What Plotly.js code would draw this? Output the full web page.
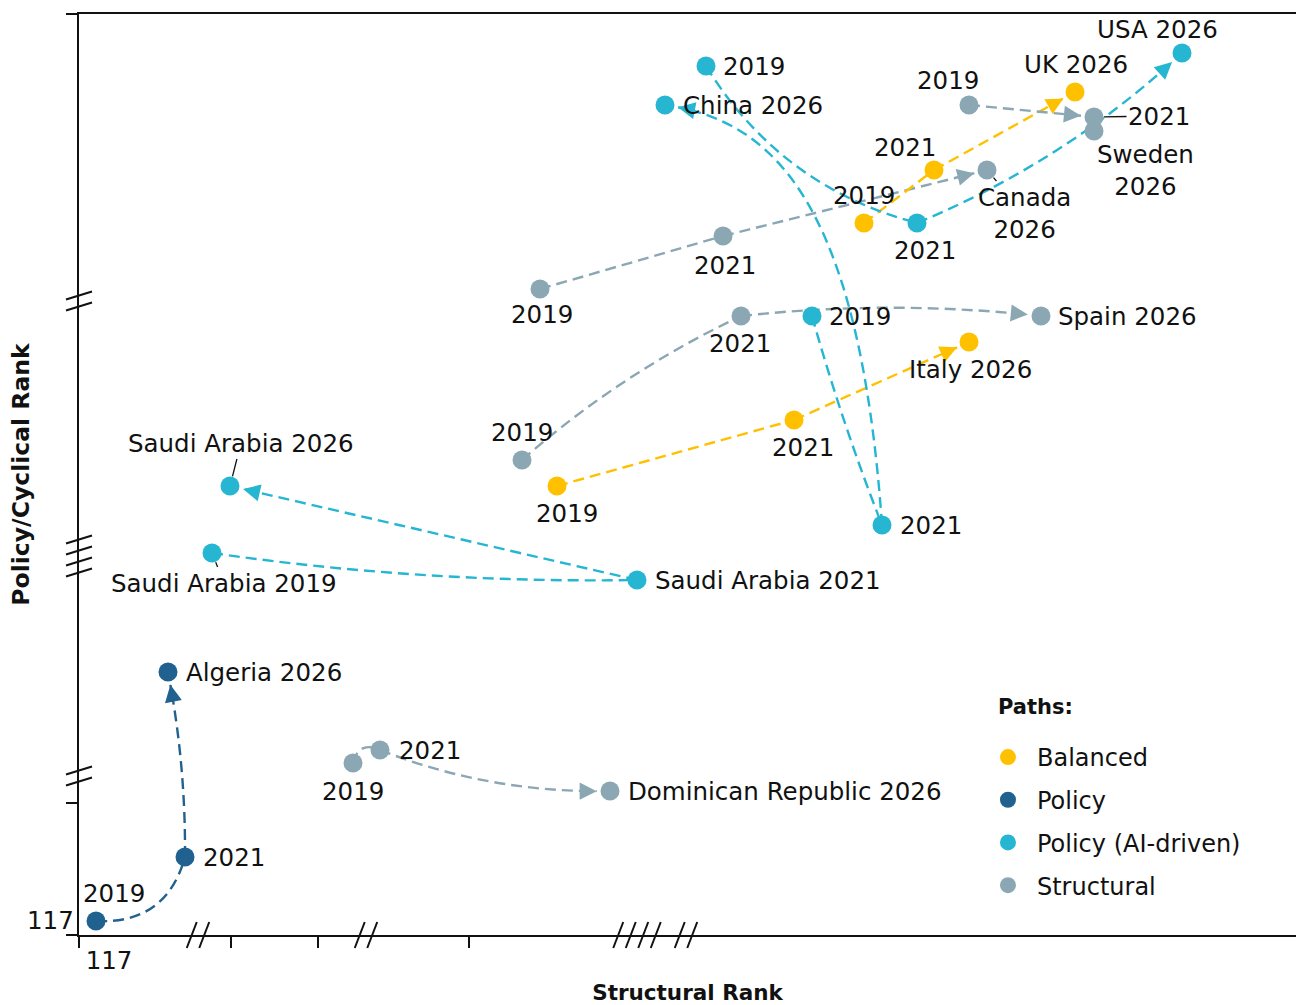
<!DOCTYPE html>
<html>
<head>
<meta charset="utf-8">
<script src="https://cdn.plot.ly/plotly-3.0.1.min.js"></script>
<style>html,body{margin:0;padding:0;background:#fff}#chart{width:1296px;height:1005px}</style>
</head>
<body>
<div id="chart"></div>
<script>
// ---------------- DATA (positions on the broken rank axes) ----------------
const countries = ['Algeria', 'Dominican Republic', 'Saudi Arabia', 'Italy', 'Spain', 'Canada', 'UK', 'Sweden', 'USA', 'China'];
const pathType = ['Policy', 'Structural', 'Policy (AI-driven)', 'Balanced', 'Structural', 'Structural', 'Balanced', 'Structural', 'Policy (AI-driven)', 'Policy (AI-driven)'];
const years = [2019, 2021, 2026];
const structural2019 = [17, 274, 133, 478, 443, 461, 785, 890, 627, 733];
const structural2021 = [106, 301, 558, 715, 662, 644, 855, 1015, 838, 803];
const structural2026 = [89, 531, 151, 890, 962, 908, 996, 1015, 1103, 586];
const policy2019 = [14, 172, 382, 449, 475, 646, 712, 830, 869, 619];
const policy2021 = [78, 185, 355, 515, 619, 699, 765, 818, 712, 410];
const policy2026 = [263, 144, 449, 593, 619, 765, 843, 804, 882, 830];
const pointLabels = [
  ['2019', '2021', 'Algeria 2026'],
  ['2019', '2021', 'Dominican Republic 2026'],
  ['Saudi Arabia 2019', 'Saudi Arabia 2021', 'Saudi Arabia 2026'],
  ['2019', '2021', 'Italy 2026'],
  ['2019', '2021', 'Spain 2026'],
  ['2019', '2021', 'Canada<br>2026'],
  ['2019', '2021', 'UK 2026'],
  ['2019', '2021', 'Sweden<br>2026'],
  ['2019', '2021', 'USA 2026'],
  ['2019', '2021', 'China 2026']
];
const pathNames = ['Balanced', 'Policy', 'Policy (AI-driven)', 'Structural'];
const legendTitle = 'Paths:';
const axisTickLabel = '117';

// ---------------- STYLE ----------------
const pathColors = ['#FFC000', '#21618F', '#26B6D2', '#8AA7B3'];
const FONT = 'DejaVu Sans, Verdana, sans-serif';
const LABEL_SIZE = 24.5;
const q = r => [1/3, 2*r/3, 2/3, 2*r/3];           // arc-like bend of a path segment
const bends = [
  [q(0.4), q(0.05)],
  [q(-0.6), q(0.1)],
  [q(0.04), q(0)],
  [q(0), q(0)],
  [q(-0.07), q(-0.055)],
  [q(0), q(0)],
  [q(0), q(0)],
  [q(0), q(0)],
  [q(0.2), q(0.09)],
  [q(0.025), [0.6425, 0.277, 0.871, 0.181]]
];
const arrowSeg = [1, 1, 1, 1, 1, 1, 1, 0, 1, 1];
// label offsets: [dx, dy (down), anchor, leader]
const labelStyle = [
  [[18, -28, 'c'], [18, 0, 'l'], [18, 0, 'l']],
  [[0, 28, 'c'], [19, 0, 'l'], [18, 0, 'l']],
  [[12, 30, 'c', 1], [18, 0, 'l'], [11, -43, 'c', 1]],
  [[10, 27, 'c'], [9, 27, 'c'], [1, 27, 'c']],
  [[0, -28, 'c'], [-1, 27, 'c'], [17, 0, 'l']],
  [[2, 25, 'c'], [2, 29, 'c'], [37, 43, 'c', 1]],
  [[0, -28, 'c'], [-29, -23, 'c'], [1, -28, 'c']],
  [[-21, -25, 'c'], [65, -1, 'c', 1], [51, 39, 'c']],
  [[17, 0, 'l'], [8, 27, 'c'], [-25, -24, 'c']],
  [[17, 0, 'l'], [18, 0, 'l'], [18, 0, 'l']]
];
const xBreaks = [[119, 2], [287, 2], [558, 4], [607, 2]];
const yBreaks = [[634, 2], [379, 4], [159, 2]];
const xTickPos = [0, 152, 239, 390];
const yTickPos = [0, 132, 921];

// ---------------- BUILD ----------------
const S = [structural2019, structural2021, structural2026];
const P = [policy2019, policy2021, policy2026];
const pt = (i, k) => [S[k][i], P[k][i]];
const colorOf = i => pathColors[pathNames.indexOf(pathType[i])];

function controls(p0, p3, b) {
  const dx = p3[0] - p0[0], dy = p3[1] - p0[1];
  const px = dy, py = -dx;
  return [p0,
    [p0[0] + b[0]*dx + b[1]*px, p0[1] + b[0]*dy + b[1]*py],
    [p0[0] + b[2]*dx + b[3]*px, p0[1] + b[2]*dy + b[3]*py],
    p3];
}
function bez(c, t) {
  const m = 1 - t;
  return [0, 1].map(j => m*m*m*c[0][j] + 3*m*m*t*c[1][j] + 3*m*t*t*c[2][j] + t*t*t*c[3][j]);
}
function dbez(c, t) {
  const m = 1 - t;
  return [0, 1].map(j => 3*m*m*(c[1][j]-c[0][j]) + 6*m*t*(c[2][j]-c[1][j]) + 3*t*t*(c[3][j]-c[2][j]));
}
function split(c, t) {
  const lerp = (a, b) => [a[0] + (b[0]-a[0])*t, a[1] + (b[1]-a[1])*t];
  const p01 = lerp(c[0], c[1]), p12 = lerp(c[1], c[2]), p23 = lerp(c[2], c[3]);
  const p012 = lerp(p01, p12), p123 = lerp(p12, p23);
  return [c[0], p01, p012, lerp(p012, p123)];
}

const shapes = [];
const annotations = [];
const SHRINK = 13, HEAD = 16;

countries.forEach((name, i) => {
  const col = colorOf(i);
  for (let s = 0; s < 2; s++) {
    let c = controls(pt(i, s), pt(i, s + 1), bends[i][s]);
    if (arrowSeg[i] === s) {
      const end = c[3];
      let t = 1;
      while (t > 0.02) {
        const b = bez(c, t);
        if (Math.hypot(b[0]-end[0], b[1]-end[1]) >= SHRINK) break;
        t -= 0.002;
      }
      const tip = bez(c, t);
      const d = dbez(c, t);
      const n = Math.hypot(d[0], d[1]) || 1;
      annotations.push({
        x: tip[0], y: tip[1], xref: 'x', yref: 'y', text: '',
        showarrow: true, arrowhead: 2, arrowsize: 1.55, arrowwidth: 2.2, arrowcolor: col,
        ax: -d[0]/n*HEAD, ay: d[1]/n*HEAD, standoff: 0
      });
      c = split(c, t);
    }
    shapes.push({
      type: 'path', xref: 'x', yref: 'y', layer: 'below',
      path: `M${c[0][0]},${c[0][1]} C${c[1][0]},${c[1][1]} ${c[2][0]},${c[2][1]} ${c[3][0]},${c[3][1]}`,
      line: {color: col, width: 2.4, dash: '11px,6px'}
    });
  }
  for (let k = 0; k < 3; k++) {
    const [dx, dy, anc, leader] = labelStyle[i][k];
    const p = pt(i, k);
    const base = {
      x: p[0], y: p[1], xref: 'x', yref: 'y', text: pointLabels[i][k],
      font: {family: FONT, size: LABEL_SIZE, color: '#111'}, align: 'center'
    };
    if (leader) {
      annotations.push(Object.assign(base, {
        showarrow: true, arrowhead: 0, arrowwidth: 1.3, arrowcolor: '#111',
        ax: dx, ay: dy, standoff: 10
      }));
    } else {
      annotations.push(Object.assign(base, {
        showarrow: false, xanchor: anc === 'l' ? 'left' : 'center', yanchor: 'middle',
        xshift: anc === 'l' ? dx - 2 : dx, yshift: -dy
      }));
    }
  }
});

// y-axis "117" label (sits above its tick, like the reference)
annotations.push({
  x: 0, xref: 'paper', y: yTickPos[0], yref: 'y', text: axisTickLabel, showarrow: false,
  xanchor: 'right', yanchor: 'middle', xshift: -3, yshift: 15,
  font: {family: FONT, size: LABEL_SIZE, color: '#111'}
});
// legend heading
annotations.push({
  x: 0.7535, xref: 'paper', y: 0.2476, yref: 'paper', text: '<b>' + legendTitle + '</b>',
  showarrow: false, xanchor: 'left', yanchor: 'middle',
  font: {family: FONT, size: 21, color: '#111'}
});

// axis break marks
xBreaks.forEach(([u, n]) => {
  for (let j = 0; j < n; j++) {
    const c = u + (j - (n - 1) / 2) * 12.5;
    shapes.push({type: 'line', xref: 'x', yref: 'paper', ysizemode: 'pixel', yanchor: 0,
      x0: c - 5, x1: c + 5, y0: -13, y1: 13, line: {color: '#111', width: 2}});
  }
});
yBreaks.forEach(([v, n]) => {
  for (let j = 0; j < n; j++) {
    const c = v - (j - (n - 1) / 2) * 11;
    shapes.push({type: 'line', yref: 'y', xref: 'paper', xsizemode: 'pixel', xanchor: 0,
      x0: -13, x1: 13, y0: c - 4, y1: c + 4, line: {color: '#111', width: 2}});
  }
});

// marker traces, one per path type
const traces = pathNames.map((pn, g) => {
  const xs = [], ys = [];
  countries.forEach((c, i) => {
    if (pathType[i] !== pn) return;
    for (let k = 0; k < 3; k++) { xs.push(S[k][i]); ys.push(P[k][i]); }
  });
  return {
    type: 'scatter', mode: 'markers', name: pn, x: xs, y: ys, legendgroup: 'g' + g,
    marker: {size: 19, color: pathColors[g]}, hoverinfo: 'skip', cliponaxis: false
  };
});

const layout = {
  width: 1296, height: 1005,
  margin: {l: 79, r: 0, t: 14, b: 70, pad: 0},
  paper_bgcolor: '#fff', plot_bgcolor: '#fff',
  showlegend: true,
  hovermode: false,
  font: {family: FONT, color: '#111'},
  xaxis: {
    range: [0, 1217], showgrid: false, zeroline: false, showline: true, mirror: true,
    linecolor: '#111', linewidth: 2, ticks: 'outside', ticklen: 11, tickwidth: 1.6, tickcolor: '#111',
    tickmode: 'array', tickvals: xTickPos, ticktext: [axisTickLabel, '', '', ''],
    tickfont: {family: FONT, size: LABEL_SIZE, color: '#111'}, ticklabelshift: 30, ticklabelstandoff: -8,
    automargin: false, fixedrange: true,
    title: {text: '<b>Structural Rank</b>', font: {family: FONT, size: 21.5, color: '#111'}, standoff: 20}
  },
  yaxis: {
    range: [0, 921], showgrid: false, zeroline: false, showline: true,
    linecolor: '#111', linewidth: 2, ticks: 'outside', ticklen: 11, tickwidth: 1.6, tickcolor: '#111',
    tickmode: 'array', tickvals: yTickPos, ticktext: ['', '', ''],
    automargin: false, fixedrange: true,
    title: {text: '<b>Policy/Cyclical Rank</b>', font: {family: FONT, size: 23.5, color: '#111'}, standoff: 27}
  },
  legend: {
    x: 0.7395, xanchor: 'left', y: 0.2172, yanchor: 'top',
    bgcolor: 'rgba(0,0,0,0)', traceorder: 'grouped', tracegroupgap: 8.5, itemwidth: 48,
    font: {family: FONT, size: 24, color: '#111'},
    itemsizing: 'trace'
  },
  shapes: shapes,
  annotations: annotations
};

Plotly.newPlot('chart', traces, layout, {displayModeBar: false, staticPlot: true});
</script>
</body>
</html>
